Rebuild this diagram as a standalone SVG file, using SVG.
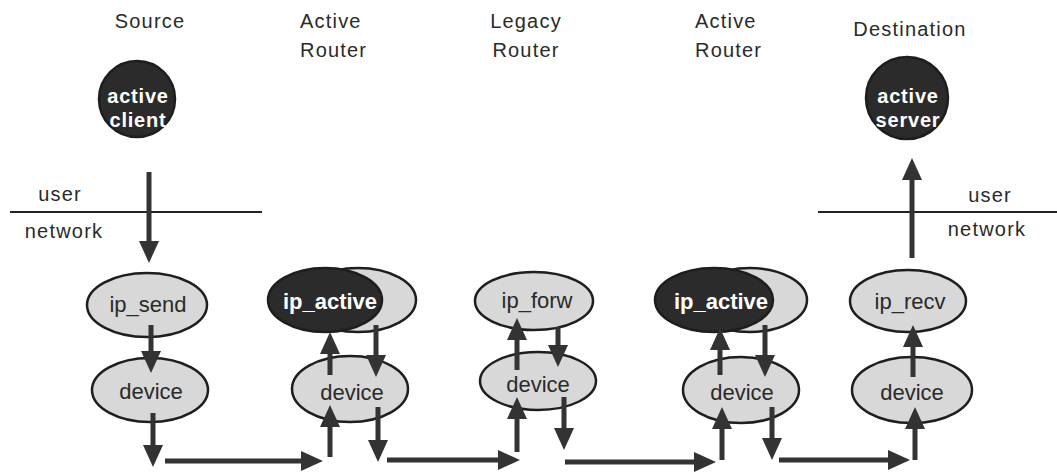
<svg xmlns="http://www.w3.org/2000/svg" width="1057" height="472" viewBox="0 0 1057 472">
<style>
.lbl{font-family:"Liberation Sans",Arial,sans-serif;font-size:20px;fill:#2a2a2a;letter-spacing:1.2px}
.nt{font-family:"Liberation Sans",Arial,sans-serif;font-size:22px;fill:#2a2a2a;text-anchor:middle}
.wt{font-family:"Liberation Sans",Arial,sans-serif;font-size:22px;font-weight:bold;fill:#ffffff;text-anchor:middle}
.ct{font-family:"Liberation Sans",Arial,sans-serif;font-size:20px;font-weight:bold;fill:#ffffff;text-anchor:middle;letter-spacing:0.8px}
.lt{fill:#d8d8d8;stroke:#1e1e1e;stroke-width:2.5}
.dk{fill:#2b2b2b;stroke:#1e1e1e;stroke-width:2.5}
.sep{stroke:#222;stroke-width:2}
.arr{stroke:#333;stroke-width:5;fill:none;marker-end:url(#ah)}
</style>
<defs>
<marker id="ah" markerUnits="userSpaceOnUse" markerWidth="22" markerHeight="20" refX="10" refY="10" orient="auto">
<path d="M0,0 L22,10 L0,20 z" fill="#333"/>
</marker>
</defs>
<rect width="1057" height="472" fill="#ffffff"/>
<g id="headers">
<text class="lbl" x="150" y="28" text-anchor="middle">Source</text>
<text class="lbl" x="300" y="28">Active</text>
<text class="lbl" x="300" y="57">Router</text>
<text class="lbl" x="526" y="28" text-anchor="middle">Legacy</text>
<text class="lbl" x="526" y="57" text-anchor="middle">Router</text>
<text class="lbl" x="695" y="28">Active</text>
<text class="lbl" x="695" y="57">Router</text>
<text class="lbl" x="910" y="36" text-anchor="middle">Destination</text>
</g>
<g id="boundary-left">
<line class="sep" x1="10" y1="212" x2="262" y2="212"/>
<text class="lbl" x="60" y="201" text-anchor="middle">user</text>
<text class="lbl" x="64" y="238" text-anchor="middle">network</text>
</g>
<g id="boundary-right">
<line class="sep" x1="818" y1="212" x2="1057" y2="212"/>
<text class="lbl" x="990" y="202" text-anchor="middle">user</text>
<text class="lbl" x="987" y="236" text-anchor="middle">network</text>
</g>
<g id="active-client">
<circle class="dk" cx="137" cy="99" r="38"/>
<text class="ct" x="138" y="103">active</text>
<text class="ct" x="138" y="127">client</text>
</g>
<g id="active-server">
<circle class="dk" cx="907" cy="98" r="41"/>
<text class="ct" x="908" y="103">active</text>
<text class="ct" x="908" y="127">server</text>
</g>
<g id="src-ip-send">
<ellipse class="lt" cx="147" cy="305" rx="60" ry="32"/>
<text class="nt" x="148" y="312">ip_send</text>
</g>
<g id="src-device">
<ellipse class="lt" cx="150" cy="390" rx="58" ry="32"/>
<text class="nt" x="151" y="399">device</text>
</g>
<g id="ar1-ip-active">
<ellipse class="lt" cx="358" cy="300" rx="58" ry="32"/>
<ellipse class="dk" cx="325" cy="300" rx="57" ry="32"/>
<text class="wt" x="330" y="309">ip_active</text>
</g>
<g id="ar1-device">
<ellipse class="lt" cx="350" cy="389" rx="58" ry="33"/>
<text class="nt" x="352" y="400">device</text>
</g>
<g id="lr-ip-forw">
<ellipse class="lt" cx="534" cy="301" rx="59" ry="29"/>
<text class="nt" x="537" y="308">ip_forw</text>
</g>
<g id="lr-device">
<ellipse class="lt" cx="538" cy="381" rx="58" ry="29"/>
<text class="nt" x="538" y="392">device</text>
</g>
<g id="ar2-ip-active">
<ellipse class="lt" cx="750" cy="300" rx="57" ry="32"/>
<ellipse class="dk" cx="714" cy="300" rx="59" ry="32"/>
<text class="wt" x="721" y="309">ip_active</text>
</g>
<g id="ar2-device">
<ellipse class="lt" cx="741" cy="390" rx="58" ry="33"/>
<text class="nt" x="742" y="400">device</text>
</g>
<g id="dst-ip-recv">
<ellipse class="lt" cx="908" cy="301" rx="58" ry="31"/>
<text class="nt" x="910" y="309">ip_recv</text>
</g>
<g id="dst-device">
<ellipse class="lt" cx="912" cy="390" rx="60" ry="33"/>
<text class="nt" x="912" y="400">device</text>
</g>
<g id="connectors">
<line class="arr" x1="149" y1="172" x2="149" y2="251"/>
<line class="arr" x1="151" y1="325" x2="151" y2="361"/>
<line class="arr" x1="153" y1="413" x2="153" y2="455"/>
<line class="arr" x1="165" y1="461" x2="311" y2="461"/>
<line class="arr" x1="330" y1="457" x2="330" y2="417"/>
<line class="arr" x1="330" y1="375" x2="330" y2="344"/>
<line class="arr" x1="376" y1="325" x2="376" y2="365"/>
<line class="arr" x1="378" y1="407" x2="378" y2="450"/>
<line class="arr" x1="387" y1="460" x2="508" y2="460"/>
<line class="arr" x1="517" y1="452" x2="517" y2="409"/>
<line class="arr" x1="517" y1="370" x2="517" y2="330"/>
<line class="arr" x1="558" y1="327" x2="558" y2="355"/>
<line class="arr" x1="564" y1="397" x2="564" y2="438"/>
<line class="arr" x1="565" y1="462" x2="704" y2="462"/>
<line class="arr" x1="722" y1="460" x2="722" y2="419"/>
<line class="arr" x1="720" y1="375" x2="720" y2="340"/>
<line class="arr" x1="765" y1="325" x2="765" y2="365"/>
<line class="arr" x1="772" y1="407" x2="772" y2="448"/>
<line class="arr" x1="779" y1="460" x2="898" y2="460"/>
<line class="arr" x1="915" y1="460" x2="915" y2="419"/>
<line class="arr" x1="913" y1="377" x2="913" y2="337"/>
<line class="arr" x1="912" y1="258" x2="912" y2="170"/>
</g>
</svg>
